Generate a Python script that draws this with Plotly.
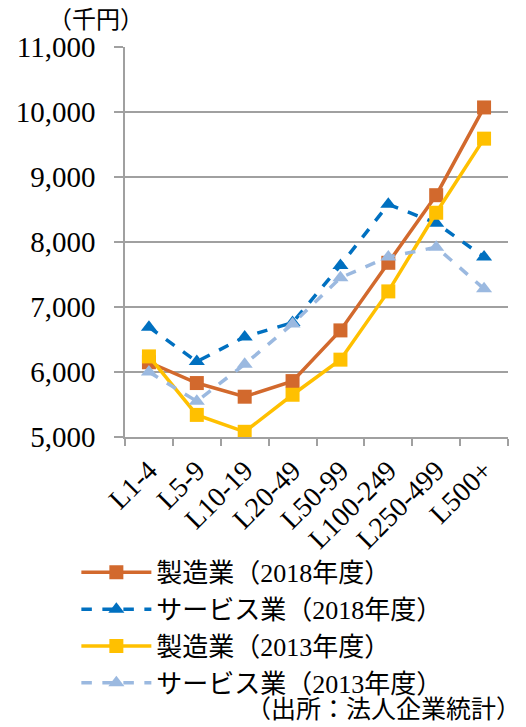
import plotly.graph_objects as go

categories = ["L1-4", "L5-9", "L10-19", "L20-49", "L50-99", "L100-249", "L250-499", "L500+"]
mfg_2018 = [6150, 5830, 5620, 5860, 6640, 7680, 8720, 10070]
svc_2018 = [6690, 6160, 6540, 6760, 7640, 8580, 8290, 7770]
mfg_2013 = [6240, 5340, 5080, 5650, 6190, 7240, 8450, 9590]
svc_2013 = [6000, 5550, 6120, 6740, 7450, 7770, 7920, 7280]
y_ticks = [5000, 6000, 7000, 8000, 9000, 10000, 11000]
names = ["製造業（2018年度）", "サービス業（2018年度）", "製造業（2013年度）", "サービス業（2013年度）"]

FONT = "Liberation Serif, 'Noto Sans CJK JP', serif"

series = [
    (names[0], mfg_2018, "#D2692D", "solid", "square"),
    (names[1], svc_2018, "#0070C0", "dash", "triangle-up"),
    (names[2], mfg_2013, "#FFC000", "solid", "square"),
    (names[3], svc_2013, "#9BB9E0", "dash", "triangle-up"),
]

fig = go.Figure()
for i, (nm, vals, col, dash, sym) in enumerate(series):
    fig.add_trace(go.Scatter(
        x=categories, y=vals, name=nm, mode="lines+markers",
        line=dict(color=col, width=3.5, dash=dash),
        marker=dict(symbol=sym, size=14, color=col),
        legendgroup=f"g{i}",
    ))

fig.update_layout(
    width=526, height=727,
    margin=dict(l=125, r=18, t=47, b=290),
    plot_bgcolor="white", paper_bgcolor="white",
    font=dict(family=FONT, size=22, color="#000000"),
    showlegend=True,
    legend=dict(
        x=-0.127, y=-0.287, xanchor="left", yanchor="top",
        font=dict(family=FONT, size=26, color="#000000"),
        itemwidth=70, tracegroupgap=0, bgcolor="rgba(0,0,0,0)",
    ),
    annotations=[
        dict(text="（千円）", xref="paper", yref="paper", x=-0.205, y=1.0,
             xanchor="left", yanchor="bottom", yshift=12, showarrow=False,
             font=dict(family=FONT, size=24)),
        dict(text="（出所：法人企業統計）", xref="paper", yref="paper", x=0.31, y=-0.698,
             xanchor="left", yanchor="middle", showarrow=False,
             font=dict(family=FONT, size=25)),
    ],
)

fig.update_xaxes(
    type="category", tickangle=-45, showgrid=False,
    showline=True, linecolor="#A0A0A0", linewidth=1.5,
    ticks="outside", tickson="boundaries", ticklen=7, tickcolor="#A0A0A0", tickwidth=1.5,
    ticklabelstandoff=4,
    tickfont=dict(family=FONT, size=28), range=[-0.5, 7.5], automargin=False,
)
fig.update_yaxes(
    range=[5000, 11000], tickvals=y_ticks, ticktext=[f"{v:,}" for v in y_ticks],
    showgrid=True, gridcolor="#A0A0A0", gridwidth=1.5,
    showline=True, linecolor="#A0A0A0", linewidth=1.5,
    ticks="outside", ticklen=9, tickcolor="#A0A0A0", tickwidth=1.5,
    ticklabelstandoff=13,
    tickfont=dict(family=FONT, size=29), zeroline=False, automargin=False,
)

fig.write_html("out.html", post_script="document.body.style.margin='0';",
               config={"displayModeBar": False})
